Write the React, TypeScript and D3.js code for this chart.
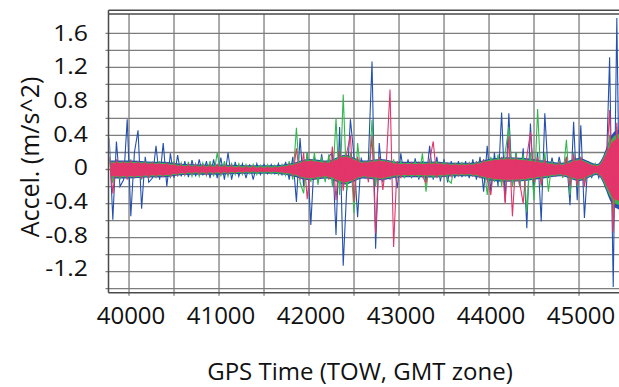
import * as d3 from 'd3';

// individual samples, every 40 s of TOW starting at 39780
const START_TOW = 39780;
const SAMPLE_STEP = 40;

const BLUE = [
  0.37, -0.59, 0.33, -0.2, -0.12, 0.59, -0.55, 0.2, 0.46, -0.46,
  0.15, -0.15, -0.1, 0.28, -0.12, 0.31, -0.2, 0.19, -0.1, 0.17,
  -0.08, 0.1, -0.09, 0.11, -0.08, 0.12, -0.07, 0.1, -0.1, 0.12,
  -0.1, 0.14, -0.12, 0.2, -0.12, 0.09, -0.08, 0.07, -0.1, 0.06,
  -0.12, 0.07, -0.06, 0.06, -0.05, 0.06, -0.05, 0.07, -0.06, 0.09,
  -0.12, 0.15, -0.38, 0.37, -0.2, 0.2, -0.65, 0.15, -0.15, 0.18,
  -0.12, 0.15, 0.2, -0.77, 0.5, -1.13, -0.2, 0.59, 0.15, -0.56,
  0.14, -0.1, 0.12, 1.27, -0.93, 0.31, -0.15, 0.1, -0.12, 0.1,
  -0.22, 0.19, -0.1, 0.12, -0.1, 0.13, -0.12, 0.1, -0.14, 0.28,
  -0.12, 0.15, -0.14, 0.12, -0.15, 0.1, -0.1, 0.1, -0.09, 0.1,
  -0.1, 0.12, -0.12, 0.15, -0.26, 0.28, -0.26, 0.2, -0.2, 0.67,
  -0.38, 0.66, -0.2, 0.2, -0.2, 0.25, -0.69, 0.54, -0.25, 0.2,
  -0.61, 0.66, -0.1, 0.14, -0.08, 0.15, -0.08, 0.15, -0.42, 0.56,
  -0.36, 0.52, -0.57, 0.1, -0.1, 0.05, -0.1, 0.06, -0.12, 1.32,
  -1.38, 1.78, -1.3,
];

const GREEN = [
  0.12, -0.16, 0.1, -0.12, 0.1, -0.1, 0.12, -0.1, 0.1, -0.12,
  0.1, -0.1, 0.09, -0.1, 0.1, -0.09, 0.08, -0.1, 0.1, -0.08,
  0.08, -0.07, 0.09, -0.08, 0.07, -0.08, 0.08, -0.07, 0.1, -0.08,
  0.2, -0.08, 0.1, -0.08, 0.07, -0.06, 0.07, -0.06, 0.06, -0.05,
  0.06, -0.06, 0.05, -0.05, 0.06, -0.05, 0.05, -0.06, 0.06, -0.07,
  0.1, -0.12, 0.49, -0.15, -0.28, 0.2, -0.15, 0.2, -0.18, 0.15,
  -0.15, 0.18, -0.2, 0.6, -0.3, 0.88, -0.25, 0.2, -0.51, 0.31,
  -0.1, 0.1, -0.12, 0.58, -0.2, 0.15, -0.12, 0.1, -0.1, 0.12,
  -0.1, 0.1, -0.1, 0.08, -0.09, 0.1, -0.1, 0.19, -0.26, 0.12,
  -0.1, 0.1, -0.1, 0.09, -0.12, -0.16, 0.08, -0.08, 0.09, -0.07,
  0.08, -0.08, 0.1, -0.1, 0.12, -0.3, 0.15, -0.15, 0.18, -0.2,
  0.2, 0.5, -0.2, 0.2, -0.2, 0.18, -0.5, 0.2, -0.36, 0.71,
  -0.2, 0.2, -0.26, 0.1, -0.08, 0.1, -0.1, 0.35, -0.3, 0.2,
  -0.2, 0.15, -0.15, 0.08, -0.07, 0.07, -0.06, 0.07, -0.08, 0.4,
  -0.51, 0.5, -0.6,
];

const RED = [
  0.15, -0.28, 0.12, -0.1, 0.1, -0.12, 0.11, -0.1, 0.1, -0.11,
  0.09, -0.1, 0.09, -0.09, 0.08, -0.09, 0.08, -0.08, 0.07, -0.07,
  0.06, -0.06, 0.06, -0.05, 0.06, -0.05, 0.05, -0.06, 0.05, -0.05,
  0.06, -0.05, 0.05, -0.05, 0.05, -0.04, 0.04, -0.04, 0.04, -0.03,
  0.04, -0.03, 0.03, -0.03, 0.03, -0.03, 0.03, -0.03, 0.04, -0.04,
  0.06, -0.08, 0.25, -0.12, 0.2, -0.35, 0.12, -0.12, 0.1, -0.1,
  0.1, -0.12, 0.27, -0.36, 0.22, -0.25, 0.2, 0.4, -0.38, 0.15,
  -0.1, 0.1, -0.15, 0.4, -0.75, 0.15, -0.24, 0.1, 0.94, -0.91,
  0.1, -0.1, 0.08, -0.08, 0.09, -0.07, 0.08, -0.08, -0.16, 0.1,
  0.33, -0.1, 0.08, -0.08, 0.07, -0.08, 0.06, -0.07, 0.06, -0.06,
  0.07, -0.07, 0.08, -0.1, 0.12, -0.12, -0.3, 0.12, -0.12, 0.15,
  -0.4, 0.39, -0.55, 0.15, -0.15, -0.4, 0.15, 0.44, -0.15, 0.15,
  -0.18, 0.12, -0.08, 0.07, -0.07, 0.08, -0.08, 0.15, -0.2, 0.18,
  -0.18, 0.15, -0.2, 0.06, -0.06, 0.05, -0.06, 0.05, -0.06, 0.7,
  -0.74, 0.55, -0.5,
];

// dense noise floor: half-width of each trace, every 200 s of TOW from 39800
const BAND_START = 39800;
const BAND_STEP = 200;
const BLUE_BAND = [
  0.105, 0.105, 0.095, 0.09, 0.065, 0.06, 0.06, 0.053, 0.05, 0.05,
  0.075, 0.125, 0.105, 0.175, 0.105, 0.125, 0.09, 0.09, 0.095, 0.08,
  0.08, 0.125, 0.145, 0.135, 0.105, 0.08, 0.135, 0.065, 0.45, 0.5,
];
const GREEN_BAND = [
  0.092, 0.092, 0.082, 0.077, 0.052, 0.047, 0.047, 0.04, 0.037, 0.037,
  0.062, 0.112, 0.092, 0.162, 0.092, 0.112, 0.077, 0.077, 0.082, 0.067,
  0.067, 0.112, 0.132, 0.122, 0.092, 0.067, 0.122, 0.052, 0.4, 0.45,
];
const RED_BAND = [
  0.08, 0.08, 0.07, 0.065, 0.04, 0.035, 0.035, 0.028, 0.025, 0.025,
  0.05, 0.1, 0.08, 0.15, 0.08, 0.1, 0.065, 0.065, 0.07, 0.055,
  0.055, 0.1, 0.12, 0.11, 0.08, 0.055, 0.11, 0.04, 0.35, 0.4,
];

const SERIES = [
  { name: 'blue', values: BLUE, band: BLUE_BAND, color: '#2450b0' },
  { name: 'green', values: GREEN, band: GREEN_BAND, color: '#30b84c' },
  { name: 'red', values: RED, band: RED_BAND, color: '#e2356a' },
];

const X_TICKS = [40000, 41000, 42000, 43000, 44000, 45000];
const X_GRID = [40000, 40500, 41000, 41500, 42000, 42500, 43000, 43500, 44000, 44500, 45000];
const Y_TICKS = [-1.2, -0.8, -0.4, 0, 0.4, 0.8, 1.2, 1.6];
const Y_GRID = [-1.4, -1.2, -1, -0.8, -0.6, -0.4, -0.2, 0, 0.2, 0.4, 0.6, 0.8, 1, 1.2, 1.4, 1.6];

const W = 619;
const H = 387;
const FONT = '"Open Sans", sans-serif';

export default function App() {
  const plot = { left: 108.5, right: 624, top: 14, bottom: 292.7 };

  const x = d3.scaleLinear().domain([39772, 45500]).range([plot.left, plot.left + (45500 - 39772) * 0.09]);
  const y = d3.scaleLinear().domain([-1.447, 1.827]).range([plot.bottom, plot.top]);
  // tick labels sit a little tighter than the grid
  const yLabel = d3.scaleLinear().domain([-1.2, 1.6]).range([268.7, 33.3]);

  const line = d3
    .line<number>()
    .x((_d, i) => x(START_TOW + i * SAMPLE_STEP))
    .y((d) => y(d));

  const band = d3
    .area<number>()
    .x((_d, i) => x(BAND_START + i * BAND_STEP))
    .y0((d) => y(-d))
    .y1((d) => y(d))
    .curve(d3.curveMonotoneX);

  return (
    <svg width={W} height={H} style={{ position: 'absolute', left: 0, top: 0, background: '#fff' }}>
      <defs>
        <clipPath id="plot-clip">
          <rect x={plot.left + 1} y={plot.top} width={plot.right - plot.left} height={plot.bottom - plot.top} />
        </clipPath>
      </defs>

      {/* grid */}
      <g stroke="#7d7d7d" strokeWidth={1.3}>
        {Y_GRID.map((v) => (
          <line key={'h' + v} x1={plot.left - 3} x2={plot.right} y1={y(v)} y2={y(v)} />
        ))}
        {X_GRID.map((v) => (
          <line key={'v' + v} x1={x(v)} x2={x(v)} y1={plot.top} y2={plot.bottom + 3} />
        ))}
      </g>

      {/* signals: noise floor + individual samples */}
      <g clipPath="url(#plot-clip)" strokeLinejoin="miter">
        {SERIES.map((s) => (
          <g key={s.name}>
            <path d={band(s.band) || ''} fill={s.color} />
            <path d={line(s.values) || ''} stroke={s.color} fill="none" strokeWidth={1.1} />
          </g>
        ))}
      </g>

      {/* frame */}
      <g stroke="#4a4a4a" strokeWidth={1.5} fill="none">
        <line x1={plot.left} x2={plot.right} y1={10.3} y2={10.3} />
        <line x1={plot.left} x2={plot.right} y1={plot.top} y2={plot.top} />
        <line x1={plot.left} x2={plot.right} y1={plot.bottom} y2={plot.bottom} />
        <line x1={plot.left} x2={plot.left} y1={10.3} y2={plot.bottom} />
      </g>

      {/* y tick labels */}
      <g fontFamily={FONT} fontSize={21} fill="#111" textAnchor="end">
        {Y_TICKS.map((v) => (
          <text key={v} transform={`translate(88,${yLabel(v) + 7.5}) scale(1.18,1)`}>
            {v === 0 ? '0' : v.toFixed(1)}
          </text>
        ))}
      </g>

      {/* x tick labels */}
      <g fontFamily={FONT} fontSize={24} fill="#111" textAnchor="middle">
        {X_TICKS.map((v) => (
          <text key={v} x={x(v) + 2} y={324}>
            {v}
          </text>
        ))}
      </g>

      <text
        fontFamily={FONT}
        fontSize={25}
        fill="#111"
        textAnchor="middle"
        transform="translate(38.5,157) rotate(-90)"
      >
        Accel. (m/s^2)
      </text>
      <text fontFamily={FONT} fontSize={24} fill="#111" textAnchor="middle" x={360} y={380}>
        GPS Time (TOW, GMT zone)
      </text>
    </svg>
  );
}
